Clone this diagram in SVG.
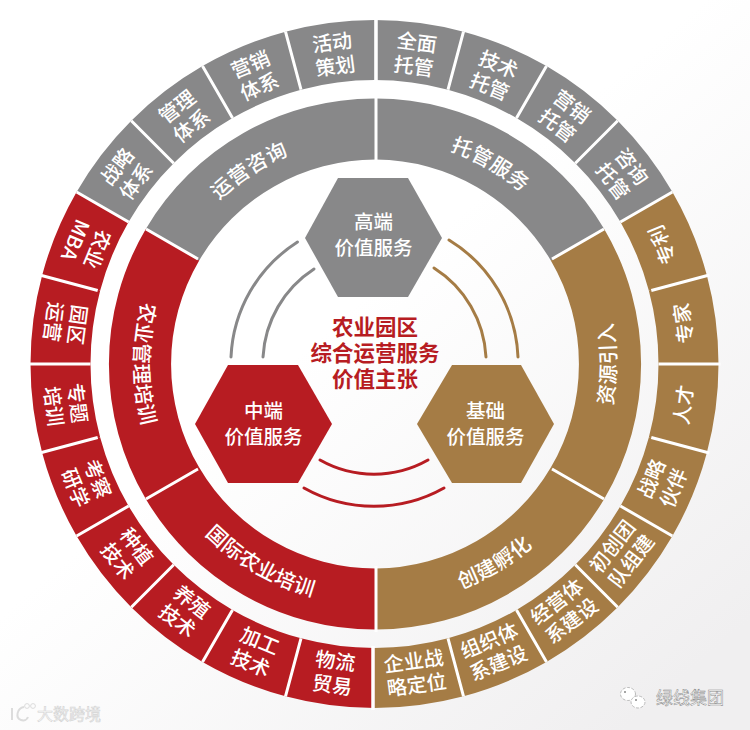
<svg xmlns="http://www.w3.org/2000/svg" width="750" height="730" viewBox="0 0 750 730">
<style>
text{font-family:"Noto Sans CJK SC","Noto Sans",sans-serif;text-anchor:middle}
.c{font-size:20px;font-weight:500;fill:#fff}
.m{font-size:20.5px;font-weight:500;fill:#fff;letter-spacing:.5px}
.h{font-size:19.5px;font-weight:500;fill:#fff}
.t{font-size:21.5px;font-weight:700;fill:#b71c22}
.g{fill:#888889}.r{fill:#b71c22}.b{fill:#a57c45}
.d{stroke:#fff;stroke-width:3;fill:none}
.al{fill:none;stroke-width:3;stroke-linecap:round}
.w{font-size:17px;fill:#fff;stroke:#8a8a8a;stroke-width:.5px}
.w2{font-size:16px;fill:#f7f7f7;stroke:#d4d4d4;stroke-width:.6px}
</style>
<defs>
<linearGradient id="bg" x1="0.55" y1="0.35" x2="1" y2="0.85">
<stop offset="0" stop-color="#fff"/><stop offset="1" stop-color="#f0eff0"/>
</linearGradient>
<path id="c" d="M374.5 20A344 344 0 0 1 463.53 31.72L448 89.68A284 284 0 0 0 374.5 80Z"/>
<path id="p1" d="M173.6 261.4A226 226 0 0 1 363.2 138.3"/>
<path id="p2" d="M375 138A226 226 0 0 1 570.7 251"/>
<path id="p3" d="M583.7 484.5A241 241 0 0 0 583.7 243.5"/>
<path id="p4" d="M379.2 605A241 241 0 0 0 585.8 480.8"/>
<path id="p5" d="M166.3 484.5A241 241 0 0 0 375 605"/>
<path id="p6" d="M166.3 243.5A241 241 0 0 0 166.3 484.5"/>
</defs>
<rect id="background" width="750" height="730" fill="url(#bg)"/>

<g id="outer-ring">
<g id="o1" class="g"><use href="#c"/><text class="c" transform="rotate(7.5 374.5 364)"><tspan x="374.5" y="47">全面</tspan><tspan x="374.5" y="71">托管</tspan></text></g>
<g id="o2" class="g"><use href="#c" transform="rotate(15 374.5 364)"/><text class="c" transform="rotate(22.5 374.5 364)"><tspan x="374.5" y="47">技术</tspan><tspan x="374.5" y="71">托管</tspan></text></g>
<g id="o3" class="g"><use href="#c" transform="rotate(30 374.5 364)"/><text class="c" transform="rotate(37.5 374.5 364)"><tspan x="374.5" y="47">营销</tspan><tspan x="374.5" y="71">托管</tspan></text></g>
<g id="o4" class="g"><use href="#c" transform="rotate(45 374.5 364)"/><text class="c" transform="rotate(52.5 374.5 364)"><tspan x="374.5" y="47">咨询</tspan><tspan x="374.5" y="71">托管</tspan></text></g>
<g id="o5" class="b"><use href="#c" transform="rotate(60 374.5 364)"/><text class="c" transform="rotate(-112.5 374.5 364)" x="374.5" y="683">专利</text></g>
<g id="o6" class="b"><use href="#c" transform="rotate(75 374.5 364)"/><text class="c" transform="rotate(-97.5 374.5 364)" x="374.5" y="683">专家</text></g>
<g id="o7" class="b"><use href="#c" transform="rotate(90 374.5 364)"/><text class="c" transform="rotate(-82.5 374.5 364)" x="374.5" y="683">人才</text></g>
<g id="o8" class="b"><use href="#c" transform="rotate(105 374.5 364)"/><text class="c" transform="rotate(-67.5 374.5 364)"><tspan x="374.5" y="671">战略</tspan><tspan x="374.5" y="695">伙伴</tspan></text></g>
<g id="o9" class="b"><use href="#c" transform="rotate(120 374.5 364)"/><text class="c" transform="rotate(-52.5 374.5 364)"><tspan x="374.5" y="671">初创团</tspan><tspan x="374.5" y="695">队组建</tspan></text></g>
<g id="o10" class="b"><use href="#c" transform="rotate(135 374.5 364)"/><text class="c" transform="rotate(-37.5 374.5 364)"><tspan x="374.5" y="671">经营体</tspan><tspan x="374.5" y="695">系建设</tspan></text></g>
<g id="o11" class="b"><use href="#c" transform="rotate(150 374.5 364)"/><text class="c" transform="rotate(-22.5 374.5 364)"><tspan x="374.5" y="671">组织体</tspan><tspan x="374.5" y="695">系建设</tspan></text></g>
<g id="o12" class="b"><use href="#c" transform="rotate(165 374.5 364)"/><text class="c" transform="rotate(-7.5 374.5 364)"><tspan x="374.5" y="671">企业战</tspan><tspan x="374.5" y="695">略定位</tspan></text></g>
<g id="o13" class="r"><use href="#c" transform="rotate(180 374.5 364)"/><text class="c" transform="rotate(7.5 374.5 364)"><tspan x="374.5" y="671">物流</tspan><tspan x="374.5" y="695">贸易</tspan></text></g>
<g id="o14" class="r"><use href="#c" transform="rotate(195 374.5 364)"/><text class="c" transform="rotate(22.5 374.5 364)"><tspan x="374.5" y="671">加工</tspan><tspan x="374.5" y="695">技术</tspan></text></g>
<g id="o15" class="r"><use href="#c" transform="rotate(210 374.5 364)"/><text class="c" transform="rotate(37.5 374.5 364)"><tspan x="374.5" y="671">养殖</tspan><tspan x="374.5" y="695">技术</tspan></text></g>
<g id="o16" class="r"><use href="#c" transform="rotate(225 374.5 364)"/><text class="c" transform="rotate(52.5 374.5 364)"><tspan x="374.5" y="671">种植</tspan><tspan x="374.5" y="695">技术</tspan></text></g>
<g id="o17" class="r"><use href="#c" transform="rotate(240 374.5 364)"/><text class="c" transform="rotate(67.5 374.5 364)"><tspan x="374.5" y="671">考察</tspan><tspan x="374.5" y="695">研学</tspan></text></g>
<g id="o18" class="r"><use href="#c" transform="rotate(255 374.5 364)"/><text class="c" transform="rotate(82.5 374.5 364)"><tspan x="374.5" y="671">专题</tspan><tspan x="374.5" y="695">培训</tspan></text></g>
<g id="o19" class="r"><use href="#c" transform="rotate(270 374.5 364)"/><text class="c" transform="rotate(97.5 374.5 364)"><tspan x="374.5" y="671">园区</tspan><tspan x="374.5" y="695">运营</tspan></text></g>
<g id="o20" class="r"><use href="#c" transform="rotate(285 374.5 364)"/><text class="c" transform="rotate(112.5 374.5 364)"><tspan x="374.5" y="671">农业</tspan><tspan x="374.5" y="695">MBA</tspan></text></g>
<g id="o21" class="g"><use href="#c" transform="rotate(300 374.5 364)"/><text class="c" transform="rotate(-52.5 374.5 364)"><tspan x="374.5" y="47">战略</tspan><tspan x="374.5" y="71">体系</tspan></text></g>
<g id="o22" class="g"><use href="#c" transform="rotate(315 374.5 364)"/><text class="c" transform="rotate(-37.5 374.5 364)"><tspan x="374.5" y="47">管理</tspan><tspan x="374.5" y="71">体系</tspan></text></g>
<g id="o23" class="g"><use href="#c" transform="rotate(330 374.5 364)"/><text class="c" transform="rotate(-22.5 374.5 364)"><tspan x="374.5" y="47">营销</tspan><tspan x="374.5" y="71">体系</tspan></text></g>
<g id="o24" class="g"><use href="#c" transform="rotate(345 374.5 364)"/><text class="c" transform="rotate(-7.5 374.5 364)"><tspan x="374.5" y="47">活动</tspan><tspan x="374.5" y="71">策划</tspan></text></g>
</g>

<g id="outer-dividers" class="d">
<path d="M376 18V81M373 646V710" stroke-width="3.5"/>
<path d="M463.5 31.7L448 89.7M546.5 66.1L516.5 118.1M617.7 120.8L575.3 163.2M672.4 192L620.4 222M709.3 275L651.3 290.5M720.5 364H658.5M709.3 453L651.3 437.5M672.4 536L620.4 506M617.7 607.2L575.3 564.8M546.5 661.9L516.5 609.9M463.5 696.3L448 638.3M285.5 696.3L301 638.3M202.5 661.9L232.5 609.9M131.3 607.2L173.7 564.8M76.6 536L128.6 506M39.7 453L97.7 437.5M28.5 364H90.5M39.7 275L97.7 290.5M76.6 192L128.6 222M131.3 120.8L173.7 163.2M202.5 66.1L232.5 118.1M285.5 31.7L301 89.7"/>
</g>

<g id="middle-ring">
<g id="m1"><path class="g" d="M376 98.5A265.5 265.5 0 0 1 604.2 229L550.8 260.5A204.5 204.5 0 0 0 376 159.5Z"/><text class="m"><textPath href="#p2" startOffset="50%">托管服务</textPath></text></g>
<g id="m2"><path class="b" d="M604.2 229A265.5 265.5 0 0 1 604.2 499L550.8 467.5A204.5 204.5 0 0 0 550.8 260.5Z"/><text class="m"><textPath href="#p3" startOffset="50%">资源引入</textPath></text></g>
<g id="m3"><path class="b" d="M604.2 499A265.5 265.5 0 0 1 376 629.5V568.5A204.5 204.5 0 0 0 550.8 467.5Z"/><text class="m"><textPath href="#p4" startOffset="50%">创建孵化</textPath></text></g>
<g id="m4"><path class="r" d="M376 629.5A265.5 265.5 0 0 1 145.8 499L199.2 467.5A204.5 204.5 0 0 0 376 568.5Z"/><text class="m"><textPath href="#p5" startOffset="50%">国际农业培训</textPath></text></g>
<g id="m5"><path class="r" d="M145.8 499A265.5 265.5 0 0 1 145.8 229L199.2 260.5A204.5 204.5 0 0 0 199.2 467.5Z"/><text class="m"><textPath href="#p6" startOffset="50%">农业管理培训</textPath></text></g>
<g id="m6"><path class="g" d="M145.8 229A265.5 265.5 0 0 1 376 98.5V159.5A204.5 204.5 0 0 0 199.2 260.5Z"/><text class="m"><textPath href="#p1" startOffset="50%">运营咨询</textPath></text></g>
</g>
<g id="middle-dividers" class="d">
<path d="M376 96V162M376 566V632M552 259L604 229M552 469L604 499M198 469L146 499M198 259L146 229"/>
</g>

<g id="connectors">
<path class="al" stroke="#888889" d="M231 357A144 144 0 0 1 297.5 242M263 357A112 112 0 0 1 314 269"/>
<path class="al" stroke="#a57c45" d="M449 240A144 144 0 0 1 518 357M434 268A112 112 0 0 1 486 357"/>
<path class="al" stroke="#b71c22" d="M304 488A143 143 0 0 0 444 488M320 460A110 110 0 0 0 428 460"/>
</g>

<g id="hex-high"><path class="g" d="M338 178H408L442 238L408 297H338L305 238Z"/><text class="h"><tspan x="373.5" y="229">高端</tspan><tspan x="373.5" y="255">价值服务</tspan></text></g>
<g id="hex-mid"><path class="r" d="M228 365H298L332 424L298 483H228L195 424Z"/><text class="h"><tspan x="263.5" y="418">中端</tspan><tspan x="263.5" y="444">价值服务</tspan></text></g>
<g id="hex-base"><path class="b" d="M452 365H521L554 424L521 483H452L417 424Z"/><text class="h"><tspan x="485.5" y="418">基础</tspan><tspan x="485.5" y="444">价值服务</tspan></text></g>

<g id="center"><text class="t"><tspan x="375" y="335">农业园区</tspan><tspan x="375" y="361">综合运营服务</tspan><tspan x="375" y="387">价值主张</tspan></text></g>

<g id="watermark-left">
<path d="M12 708V720M24 707C17 708 15 718 21 720C24 721 27 720 28 717" fill="none" stroke="#dcdcdc" stroke-width="2"/>
<circle cx="27" cy="706" r="2.4" fill="none" stroke="#dcdcdc"/><circle cx="33" cy="706" r="2.4" fill="none" stroke="#dcdcdc"/>
<text class="w2" x="69" y="720">大数跨境</text>
</g>
<g id="watermark-right">
<ellipse cx="628" cy="694" rx="7.5" ry="6.5" fill="#fff" stroke="#bbb" stroke-dasharray="3 1.5"/>
<ellipse cx="638" cy="702" rx="7" ry="6" fill="#fff" stroke="#bbb" stroke-dasharray="3 1.5"/>
<circle cx="625" cy="692" r="1" fill="#888"/><circle cx="636" cy="700" r="1" fill="#888"/>
<text class="w" x="690" y="704">绿线集团</text>
</g>
</svg>
